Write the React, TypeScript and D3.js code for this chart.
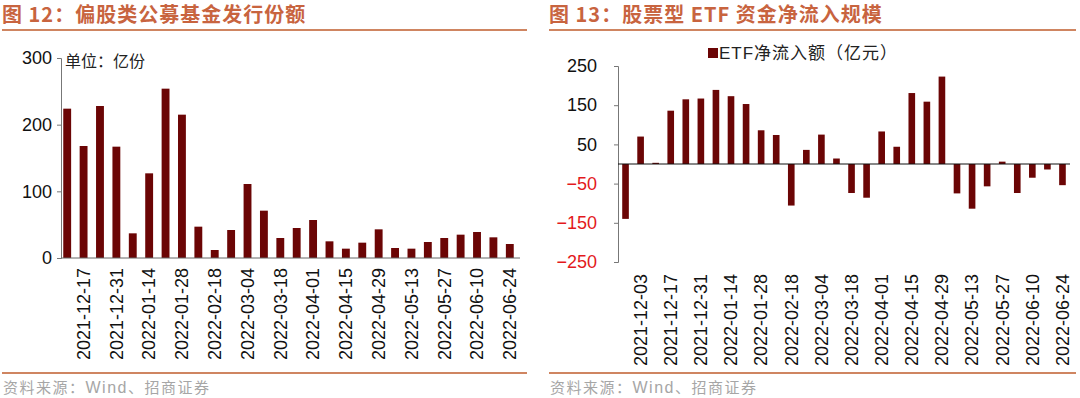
import React, { useRef, useEffect } from 'react';
import { select, scaleBand, scaleLinear, axisLeft, axisBottom } from 'd3';

// 图12 偏股类公募基金发行份额（周度，春节周缺）
const leftDates = ['2021-12-10', '2021-12-17', '2021-12-24', '2021-12-31', '2022-01-07', '2022-01-14', '2022-01-21', '2022-01-28', '2022-02-11', '2022-02-18', '2022-02-25', '2022-03-04', '2022-03-11', '2022-03-18', '2022-03-25', '2022-04-01', '2022-04-08', '2022-04-15', '2022-04-22', '2022-04-29', '2022-05-06', '2022-05-13', '2022-05-20', '2022-05-27', '2022-06-03', '2022-06-10', '2022-06-17', '2022-06-24'];
const leftValues = [224, 168, 228, 167, 37, 127, 254, 215, 47, 12, 42, 111, 71, 30, 45, 57, 25, 14, 23, 43, 15, 14, 24, 30, 35, 39, 31, 21];
const leftTickLabels = ['2021-12-17', '2021-12-31', '2022-01-14', '2022-01-28', '2022-02-18', '2022-03-04', '2022-03-18', '2022-04-01', '2022-04-15', '2022-04-29', '2022-05-13', '2022-05-27', '2022-06-10', '2022-06-24'];
const leftYTicks = [0, 100, 200, 300];

// 图13 股票型ETF资金净流入
const rightDates = ['2021-11-26', '2021-12-03', '2021-12-10', '2021-12-17', '2021-12-24', '2021-12-31', '2022-01-07', '2022-01-14', '2022-01-21', '2022-01-28', '2022-02-11', '2022-02-18', '2022-02-25', '2022-03-04', '2022-03-11', '2022-03-18', '2022-03-25', '2022-04-01', '2022-04-08', '2022-04-15', '2022-04-22', '2022-04-29', '2022-05-06', '2022-05-13', '2022-05-20', '2022-05-27', '2022-06-03', '2022-06-10', '2022-06-17', '2022-06-24'];
const rightValues = [-140, 70, 3, 136, 165, 167, 189, 173, 153, 86, 74, -106, 36, 75, 14, -74, -86, 83, 44, 181, 159, 223, -75, -114, -57, 6, -74, -35, -14, -54];
const rightTickLabels = ['2021-12-03', '2021-12-17', '2021-12-31', '2022-01-14', '2022-01-28', '2022-02-18', '2022-03-04', '2022-03-18', '2022-04-01', '2022-04-15', '2022-04-29', '2022-05-13', '2022-05-27', '2022-06-10', '2022-06-24'];
const rightYTicks = [-250, -150, -50, 50, 150, 250];

const BAR = '#6b0505';
const TITLE = '#c8643f';
const RULE = '#cf8561';
const NUM_FONT = '"Liberation Sans", Arial, sans-serif';
const CN_FONT = '"Noto Sans CJK SC", sans-serif';

const Charts = () => {
  const gRef = useRef<SVGGElement>(null);

  useEffect(() => {
    const root = select(gRef.current);
    root.selectAll('*').remove();

    // ---------- 左图 ----------
    const lx = scaleBand<string>().domain(leftDates).range([59, 518]).paddingInner(0.52).paddingOuter(0.26);
    const ly = scaleLinear().domain([0, 300]).range([258, 58]);

    const lg = root.append('g');
    lg.selectAll('.bar')
      .data(leftValues)
      .join('rect')
      .attr('class', 'bar')
      .attr('x', (d, i) => lx(leftDates[i])!)
      .attr('y', d => ly(d))
      .attr('width', lx.bandwidth())
      .attr('height', d => ly(0) - ly(d))
      .attr('fill', BAR);

    const lyAxis = lg.append('g').attr('transform', 'translate(61,0)')
      .call(axisLeft(ly).tickValues(leftYTicks).tickSize(4).tickPadding(5));
    lyAxis.select('.domain').attr('stroke', '#777');
    lyAxis.selectAll('line').attr('stroke', '#777');
    lyAxis.selectAll('text').attr('font-size', 18).attr('font-family', NUM_FONT).attr('fill', '#111');

    const lxAxis = lg.append('g').attr('transform', 'translate(0,258)')
      .call(axisBottom(lx).tickValues(leftTickLabels).tickSize(0).tickPadding(0));
    lxAxis.select('.domain').attr('d', 'M61,0H520').attr('stroke', '#666');
    lxAxis.selectAll('text')
      .attr('font-size', 18).attr('font-family', NUM_FONT).attr('fill', '#111')
      .attr('transform', 'rotate(-90)').attr('text-anchor', 'end')
      .attr('x', -10).attr('y', 0).attr('dy', '0.35em');

    // ---------- 右图 ----------
    const rx = scaleBand<string>().domain(rightDates).range([618, 1070]).paddingInner(0.56).paddingOuter(0.28);
    const ry = scaleLinear().domain([-250, 250]).range([262, 66]);

    const rg = root.append('g');
    rg.selectAll('.bar')
      .data(rightValues)
      .join('rect')
      .attr('class', 'bar')
      .attr('x', (d, i) => rx(rightDates[i])!)
      .attr('y', d => ry(Math.max(0, d)))
      .attr('width', rx.bandwidth())
      .attr('height', d => Math.abs(ry(d) - ry(0)))
      .attr('fill', BAR);

    const ryAxis = rg.append('g').attr('transform', 'translate(618,0)')
      .call(axisLeft(ry).tickValues(rightYTicks).tickSize(4).tickPadding(17));
    ryAxis.select('.domain').attr('stroke', '#777');
    ryAxis.selectAll('line').attr('stroke', '#777');
    ryAxis.selectAll('text').attr('font-size', 18).attr('font-family', NUM_FONT)
      .attr('fill', (d: any) => (d < 0 ? '#e3191c' : '#111'));

    rg.append('line')
      .attr('x1', 618).attr('x2', 1070)
      .attr('y1', ry(0)).attr('y2', ry(0))
      .attr('stroke', '#111').attr('stroke-width', 1.2);

    const rxAxis = rg.append('g').attr('transform', 'translate(0,262)')
      .call(axisBottom(rx).tickValues(rightTickLabels).tickSize(0).tickPadding(0));
    rxAxis.select('.domain').remove();
    rxAxis.selectAll('text')
      .attr('font-size', 18).attr('font-family', NUM_FONT).attr('fill', '#111')
      .attr('transform', 'rotate(-90)').attr('text-anchor', 'end')
      .attr('x', -12).attr('y', 0).attr('dy', '0.35em');
  }, []);

  return <g ref={gRef} />;
};

const App = () => (
  <svg width={1080} height={398} style={{ position: 'absolute', left: 0, top: 0, background: '#fff' }}>
    <text x={2} y={22} fontSize={20} fontWeight={700} fill={TITLE} fontFamily={CN_FONT} letterSpacing={1}>图 12：偏股类公募基金发行份额</text>
    <line x1={2} x2={527} y1={30} y2={30} stroke={RULE} strokeWidth={2} />
    <text x={65} y={67} fontSize={16} fill="#222" fontFamily={CN_FONT}>单位：亿份</text>
    <line x1={2} x2={527} y1={373} y2={373} stroke={RULE} strokeWidth={2} />
    <text x={3} y={393} fontSize={15} fill="#a6a6a6" fontFamily={CN_FONT} letterSpacing={1.5}>
      资料来源：<tspan fontFamily={NUM_FONT} fontSize={16}>Wind</tspan>、招商证券
    </text>

    <text x={549} y={22} fontSize={20} fontWeight={700} fill={TITLE} fontFamily={CN_FONT} letterSpacing={1}>图 13：股票型 ETF 资金净流入规模</text>
    <line x1={549} x2={1076} y1={30} y2={30} stroke={RULE} strokeWidth={2} />
    <rect x={708} y={48} width={10} height={10} fill={BAR} />
    <text x={719} y={59} fontSize={17} fill="#222" fontFamily={CN_FONT} letterSpacing={1}>
      <tspan fontFamily={NUM_FONT}>ETF</tspan>净流入额（亿元）
    </text>
    <line x1={549} x2={1076} y1={373} y2={373} stroke={RULE} strokeWidth={2} />
    <text x={550} y={393} fontSize={15} fill="#a6a6a6" fontFamily={CN_FONT} letterSpacing={1.5}>
      资料来源：<tspan fontFamily={NUM_FONT} fontSize={16}>Wind</tspan>、招商证券
    </text>

    <Charts />
  </svg>
);

export default App;
